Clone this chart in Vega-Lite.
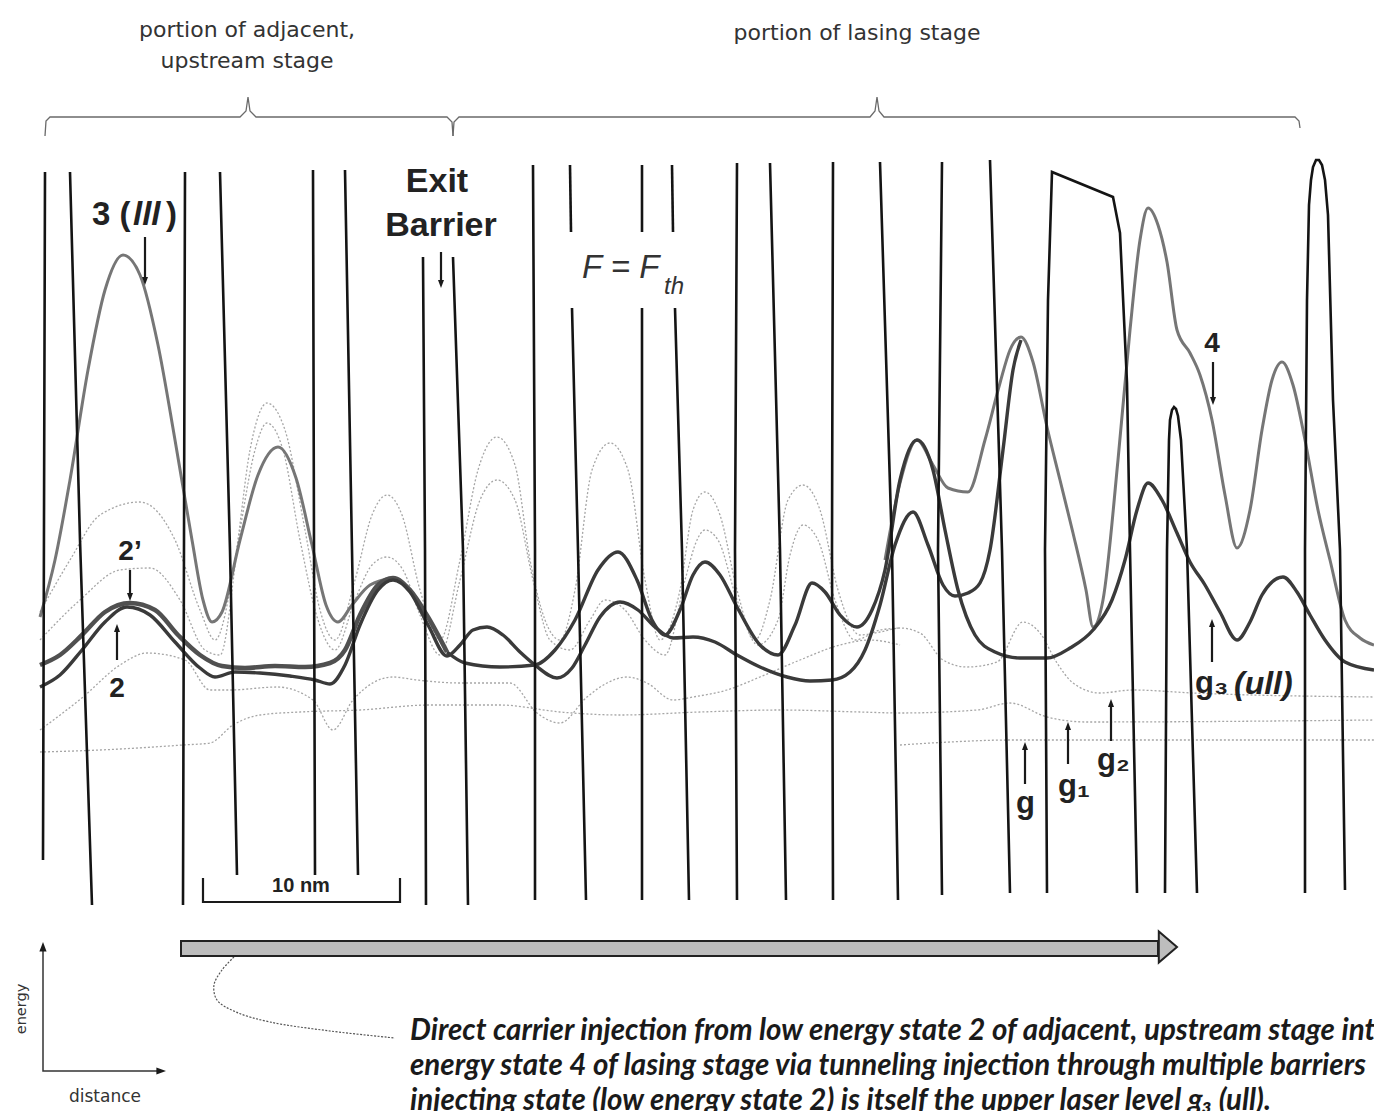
{
  "$schema": "https://vega.github.io/schema/vega-lite/v6.json",
  "width": 1374,
  "height": 1111,
  "autosize": {"type": "none"},
  "padding": 0,
  "background": "white",
  "config": {"view": {"stroke": null}, "font": "Liberation Sans"},
  "datasets": {
    "bars": [
      {"id":"b1","x":45,"y":172},{"id":"b1","x":44,"y":520},{"id":"b1","x":43,"y":860},
      {"id":"b2","x":70,"y":172},{"id":"b2","x":80,"y":540},{"id":"b2","x":92,"y":905},
      {"id":"b3","x":185,"y":172},{"id":"b3","x":184,"y":540},{"id":"b3","x":183,"y":905},
      {"id":"b4","x":220,"y":172},{"id":"b4","x":230,"y":550},{"id":"b4","x":237,"y":875},
      {"id":"b5","x":313,"y":170},{"id":"b5","x":314,"y":550},{"id":"b5","x":315,"y":875},
      {"id":"b6","x":345,"y":170},{"id":"b6","x":352,"y":550},{"id":"b6","x":358,"y":875},
      {"id":"b7","x":423,"y":257},{"id":"b7","x":425,"y":550},{"id":"b7","x":426,"y":905},
      {"id":"b8","x":453,"y":257},{"id":"b8","x":463,"y":550},{"id":"b8","x":468,"y":905},
      {"id":"b9","x":533,"y":165},{"id":"b9","x":535,"y":550},{"id":"b9","x":535,"y":900},
      {"id":"b10a","x":570,"y":165},{"id":"b10a","x":571,"y":232},
      {"id":"b10","x":572,"y":308},{"id":"b10","x":578,"y":550},{"id":"b10","x":586,"y":900},
      {"id":"b11a","x":642,"y":165},{"id":"b11a","x":642,"y":232},
      {"id":"b11","x":642,"y":308},{"id":"b11","x":642,"y":550},{"id":"b11","x":642,"y":900},
      {"id":"b12a","x":672,"y":165},{"id":"b12a","x":673,"y":232},
      {"id":"b12","x":675,"y":308},{"id":"b12","x":682,"y":550},{"id":"b12","x":689,"y":900},
      {"id":"b13","x":737,"y":163},{"id":"b13","x":735,"y":550},{"id":"b13","x":737,"y":900},
      {"id":"b14","x":770,"y":163},{"id":"b14","x":780,"y":550},{"id":"b14","x":786,"y":900},
      {"id":"b15","x":833,"y":162},{"id":"b15","x":832,"y":550},{"id":"b15","x":833,"y":900},
      {"id":"b16","x":880,"y":162},{"id":"b16","x":892,"y":550},{"id":"b16","x":898,"y":900},
      {"id":"b17","x":942,"y":162},{"id":"b17","x":938,"y":550},{"id":"b17","x":942,"y":895},
      {"id":"b18","x":990,"y":160},{"id":"b18","x":1002,"y":550},{"id":"b18","x":1010,"y":893},
      {"id":"b19","x":1047,"y":893},{"id":"b19","x":1045,"y":550},{"id":"b19","x":1048,"y":300},{"id":"b19","x":1052,"y":172},{"id":"b19","x":1113,"y":197},{"id":"b19","x":1120,"y":233},{"id":"b19","x":1127,"y":383},{"id":"b19","x":1130,"y":550},{"id":"b19","x":1137,"y":893},
      {"id":"b20","x":1165,"y":893},{"id":"b20","x":1167,"y":550},{"id":"b20","x":1169,"y":440},{"id":"b20","x":1170,"y":420},{"id":"b20","x":1172,"y":410},{"id":"b20","x":1174,"y":407},{"id":"b20","x":1176,"y":409},{"id":"b20","x":1178,"y":416},{"id":"b20","x":1181,"y":440},{"id":"b20","x":1187,"y":550},{"id":"b20","x":1197,"y":893},
      {"id":"b21","x":1305,"y":893},{"id":"b21","x":1305,"y":550},{"id":"b21","x":1307,"y":300},{"id":"b21","x":1309,"y":205},{"id":"b21","x":1311,"y":180},{"id":"b21","x":1313,"y":167},{"id":"b21","x":1316,"y":160},{"id":"b21","x":1319,"y":160},{"id":"b21","x":1322,"y":165},{"id":"b21","x":1325,"y":180},{"id":"b21","x":1328,"y":215},{"id":"b21","x":1333,"y":400},{"id":"b21","x":1340,"y":550},{"id":"b21","x":1345,"y":890}
    ],
    "faint": [
      {"id":"fa","x":40,"y":612},{"id":"fa","x":70,"y":560},{"id":"fa","x":100,"y":515},{"id":"fa","x":140,"y":502},{"id":"fa","x":175,"y":540},{"id":"fa","x":200,"y":610},{"id":"fa","x":215,"y":640},{"id":"fa","x":235,"y":560},{"id":"fa","x":250,"y":450},{"id":"fa","x":267,"y":403},{"id":"fa","x":285,"y":430},{"id":"fa","x":305,"y":530},{"id":"fa","x":320,"y":610},{"id":"fa","x":335,"y":640},{"id":"fa","x":355,"y":580},{"id":"fa","x":372,"y":515},{"id":"fa","x":387,"y":495},{"id":"fa","x":402,"y":515},{"id":"fa","x":420,"y":590},{"id":"fa","x":440,"y":640},{"id":"fa","x":460,"y":560},{"id":"fa","x":478,"y":470},{"id":"fa","x":497,"y":437},{"id":"fa","x":515,"y":465},{"id":"fa","x":530,"y":560},{"id":"fa","x":545,"y":620},{"id":"fa","x":560,"y":640},{"id":"fa","x":575,"y":590},{"id":"fa","x":592,"y":470},{"id":"fa","x":610,"y":443},{"id":"fa","x":628,"y":470},{"id":"fa","x":645,"y":580},{"id":"fa","x":660,"y":640},{"id":"fa","x":680,"y":590},{"id":"fa","x":693,"y":510},{"id":"fa","x":705,"y":492},{"id":"fa","x":720,"y":515},{"id":"fa","x":737,"y":590},{"id":"fa","x":755,"y":640},{"id":"fa","x":770,"y":600},{"id":"fa","x":788,"y":500},{"id":"fa","x":803,"y":485},{"id":"fa","x":820,"y":510},{"id":"fa","x":838,"y":590},{"id":"fa","x":860,"y":635},{"id":"fa","x":880,"y":632},{"id":"fa","x":900,"y":628},{"id":"fa","x":920,"y":633},{"id":"fa","x":943,"y":660},{"id":"fa","x":967,"y":667},{"id":"fa","x":997,"y":662},{"id":"fa","x":1023,"y":622},{"id":"fa","x":1040,"y":633},{"id":"fa","x":1057,"y":663},{"id":"fa","x":1073,"y":683},{"id":"fa","x":1100,"y":693},{"id":"fa","x":1133,"y":690},{"id":"fa","x":1193,"y":693},{"id":"fa","x":1374,"y":697},
      {"id":"fb","x":40,"y":640},{"id":"fb","x":80,"y":600},{"id":"fb","x":120,"y":570},{"id":"fb","x":150,"y":568},{"id":"fb","x":180,"y":600},{"id":"fb","x":205,"y":650},{"id":"fb","x":220,"y":655},{"id":"fb","x":240,"y":530},{"id":"fb","x":255,"y":450},{"id":"fb","x":267,"y":423},{"id":"fb","x":283,"y":450},{"id":"fb","x":300,"y":540},{"id":"fb","x":318,"y":620},{"id":"fb","x":335,"y":650},{"id":"fb","x":355,"y":600},{"id":"fb","x":372,"y":565},{"id":"fb","x":387,"y":557},{"id":"fb","x":403,"y":570},{"id":"fb","x":420,"y":615},{"id":"fb","x":440,"y":655},{"id":"fb","x":460,"y":580},{"id":"fb","x":480,"y":500},{"id":"fb","x":497,"y":480},{"id":"fb","x":515,"y":500},{"id":"fb","x":533,"y":580},{"id":"fb","x":550,"y":640},{"id":"fb","x":570,"y":650},{"id":"fb","x":590,"y":620},{"id":"fb","x":605,"y":600},{"id":"fb","x":625,"y":610},{"id":"fb","x":645,"y":640},{"id":"fb","x":665,"y":655},{"id":"fb","x":685,"y":580},{"id":"fb","x":697,"y":540},{"id":"fb","x":705,"y":530},{"id":"fb","x":718,"y":540},{"id":"fb","x":737,"y":600},{"id":"fb","x":758,"y":645},{"id":"fb","x":778,"y":620},{"id":"fb","x":790,"y":555},{"id":"fb","x":803,"y":525},{"id":"fb","x":818,"y":540},{"id":"fb","x":835,"y":600},{"id":"fb","x":855,"y":640},{"id":"fb","x":880,"y":630},{"id":"fb","x":900,"y":628},
      {"id":"fc","x":40,"y":730},{"id":"fc","x":83,"y":697},{"id":"fc","x":120,"y":665},{"id":"fc","x":147,"y":653},{"id":"fc","x":185,"y":660},{"id":"fc","x":210,"y":690},{"id":"fc","x":230,"y":690},{"id":"fc","x":277,"y":687},{"id":"fc","x":313,"y":700},{"id":"fc","x":333,"y":730},{"id":"fc","x":353,"y":700},{"id":"fc","x":393,"y":677},{"id":"fc","x":417,"y":680},{"id":"fc","x":460,"y":683},{"id":"fc","x":510,"y":683},{"id":"fc","x":537,"y":713},{"id":"fc","x":560,"y":723},{"id":"fc","x":587,"y":697},{"id":"fc","x":607,"y":683},{"id":"fc","x":627,"y":677},{"id":"fc","x":647,"y":683},{"id":"fc","x":673,"y":700},{"id":"fc","x":693,"y":697},{"id":"fc","x":727,"y":690},{"id":"fc","x":760,"y":677},{"id":"fc","x":800,"y":660},{"id":"fc","x":840,"y":645},{"id":"fc","x":870,"y":640},{"id":"fc","x":900,"y":645},
      {"id":"fd","x":40,"y":752},{"id":"fd","x":100,"y":750},{"id":"fd","x":183,"y":745},{"id":"fd","x":210,"y":743},{"id":"fd","x":233,"y":725},{"id":"fd","x":260,"y":715},{"id":"fd","x":300,"y":712},{"id":"fd","x":360,"y":710},{"id":"fd","x":430,"y":705},{"id":"fd","x":500,"y":705},{"id":"fd","x":560,"y":712},{"id":"fd","x":620,"y":715},{"id":"fd","x":700,"y":712},{"id":"fd","x":780,"y":710},{"id":"fd","x":860,"y":712},{"id":"fd","x":900,"y":713},{"id":"fd","x":977,"y":710},{"id":"fd","x":1010,"y":703},{"id":"fd","x":1047,"y":717},{"id":"fd","x":1087,"y":722},{"id":"fd","x":1374,"y":720},
      {"id":"fe","x":900,"y":745},{"id":"fe","x":950,"y":742},{"id":"fe","x":1010,"y":740},{"id":"fe","x":1374,"y":740}
    ],
    "gray": [
      {"id":"c3","x":40,"y":617},{"id":"c3","x":55,"y":560},{"id":"c3","x":70,"y":480},{"id":"c3","x":88,"y":370},{"id":"c3","x":105,"y":290},{"id":"c3","x":123,"y":255},{"id":"c3","x":140,"y":275},{"id":"c3","x":158,"y":345},{"id":"c3","x":175,"y":440},{"id":"c3","x":192,"y":540},{"id":"c3","x":203,"y":600},{"id":"c3","x":212,"y":622},{"id":"c3","x":222,"y":612},{"id":"c3","x":240,"y":540},{"id":"c3","x":258,"y":475},{"id":"c3","x":278,"y":447},{"id":"c3","x":296,"y":478},{"id":"c3","x":312,"y":545},{"id":"c3","x":326,"y":605},{"id":"c3","x":338,"y":622},{"id":"c3","x":352,"y":605},{"id":"c3","x":370,"y":585},{"id":"c3","x":393,"y":578},
      {"id":"g4","x":885,"y":560},{"id":"g4","x":900,"y":483},{"id":"g4","x":917,"y":440},{"id":"g4","x":933,"y":465},{"id":"g4","x":948,"y":488},{"id":"g4","x":968,"y":492},{"id":"g4","x":985,"y":440},{"id":"g4","x":1000,"y":383},{"id":"g4","x":1010,"y":350},{"id":"g4","x":1021,"y":337},{"id":"g4","x":1033,"y":362},{"id":"g4","x":1047,"y":427},{"id":"g4","x":1060,"y":480},{"id":"g4","x":1073,"y":533},{"id":"g4","x":1086,"y":590},{"id":"g4","x":1093,"y":627},{"id":"g4","x":1103,"y":600},{"id":"g4","x":1118,"y":460},{"id":"g4","x":1130,"y":330},{"id":"g4","x":1140,"y":240},{"id":"g4","x":1148,"y":208},{"id":"g4","x":1158,"y":225},{"id":"g4","x":1167,"y":262},{"id":"g4","x":1177,"y":330},{"id":"g4","x":1190,"y":353},{"id":"g4","x":1200,"y":375},{"id":"g4","x":1212,"y":420},{"id":"g4","x":1225,"y":495},{"id":"g4","x":1237,"y":548},{"id":"g4","x":1250,"y":510},{"id":"g4","x":1262,"y":430},{"id":"g4","x":1272,"y":380},{"id":"g4","x":1282,"y":362},{"id":"g4","x":1293,"y":385},{"id":"g4","x":1305,"y":440},{"id":"g4","x":1318,"y":510},{"id":"g4","x":1330,"y":560},{"id":"g4","x":1345,"y":620},{"id":"g4","x":1360,"y":638},{"id":"g4","x":1374,"y":645}
    ],
    "thick": [
      {"id":"s2p","x":40,"y":665},{"id":"s2p","x":60,"y":655},{"id":"s2p","x":82,"y":635},{"id":"s2p","x":105,"y":612},{"id":"s2p","x":130,"y":603},{"id":"s2p","x":155,"y":610},{"id":"s2p","x":178,"y":635},{"id":"s2p","x":200,"y":655},{"id":"s2p","x":222,"y":666},{"id":"s2p","x":245,"y":668},{"id":"s2p","x":275,"y":666},{"id":"s2p","x":305,"y":667},{"id":"s2p","x":330,"y":663},{"id":"s2p","x":345,"y":650},{"id":"s2p","x":360,"y":615},{"id":"s2p","x":378,"y":585},{"id":"s2p","x":393,"y":578},{"id":"s2p","x":410,"y":590},{"id":"s2p","x":428,"y":617},{"id":"s2p","x":447,"y":652}
    ],
    "dark": [
      {"id":"s2","x":40,"y":687},{"id":"s2","x":60,"y":675},{"id":"s2","x":82,"y":650},{"id":"s2","x":105,"y":622},{"id":"s2","x":127,"y":607},{"id":"s2","x":150,"y":615},{"id":"s2","x":175,"y":642},{"id":"s2","x":200,"y":668},{"id":"s2","x":215,"y":677},{"id":"s2","x":235,"y":672},{"id":"s2","x":260,"y":673},{"id":"s2","x":290,"y":676},{"id":"s2","x":315,"y":680},{"id":"s2","x":330,"y":684},{"id":"s2","x":345,"y":665},{"id":"s2","x":360,"y":625},{"id":"s2","x":378,"y":590},{"id":"s2","x":393,"y":580},{"id":"s2","x":410,"y":592},{"id":"s2","x":428,"y":625},{"id":"s2","x":447,"y":656},{"id":"s2","x":460,"y":645},{"id":"s2","x":473,"y":630},{"id":"s2","x":487,"y":627},{"id":"s2","x":503,"y":635},{"id":"s2","x":520,"y":652},{"id":"s2","x":535,"y":665},{"id":"s2","x":557,"y":678},{"id":"s2","x":572,"y":668},{"id":"s2","x":585,"y":645},{"id":"s2","x":600,"y":617},{"id":"s2","x":620,"y":602},{"id":"s2","x":638,"y":610},{"id":"s2","x":655,"y":627},{"id":"s2","x":673,"y":638},{"id":"s2","x":693,"y":637},{"id":"s2","x":715,"y":642},{"id":"s2","x":737,"y":655},{"id":"s2","x":760,"y":667},{"id":"s2","x":787,"y":677},{"id":"s2","x":810,"y":681},{"id":"s2","x":832,"y":680},{"id":"s2","x":850,"y":672},{"id":"s2","x":865,"y":650},{"id":"s2","x":880,"y":605},{"id":"s2","x":895,"y":545},{"id":"s2","x":913,"y":512},{"id":"s2","x":928,"y":545},{"id":"s2","x":943,"y":585},{"id":"s2","x":955,"y":596},{"id":"s2","x":968,"y":593},{"id":"s2","x":980,"y":583},{"id":"s2","x":990,"y":550},{"id":"s2","x":1003,"y":450},{"id":"s2","x":1013,"y":370},{"id":"s2","x":1021,"y":340},
      {"id":"m2","x":447,"y":652},{"id":"m2","x":465,"y":663},{"id":"m2","x":500,"y":667},{"id":"m2","x":535,"y":665},{"id":"m2","x":555,"y":650},{"id":"m2","x":575,"y":620},{"id":"m2","x":598,"y":570},{"id":"m2","x":618,"y":552},{"id":"m2","x":637,"y":580},{"id":"m2","x":652,"y":620},{"id":"m2","x":665,"y":635},{"id":"m2","x":680,"y":610},{"id":"m2","x":693,"y":575},{"id":"m2","x":705,"y":562},{"id":"m2","x":720,"y":575},{"id":"m2","x":737,"y":607},{"id":"m2","x":760,"y":645},{"id":"m2","x":778,"y":655},{"id":"m2","x":795,"y":625},{"id":"m2","x":812,"y":583},{"id":"m2","x":825,"y":592},{"id":"m2","x":840,"y":615},{"id":"m2","x":857,"y":627},{"id":"m2","x":872,"y":610},{"id":"m2","x":885,"y":570},{"id":"m2","x":900,"y":480},{"id":"m2","x":917,"y":440},{"id":"m2","x":933,"y":470},{"id":"m2","x":945,"y":530},{"id":"m2","x":958,"y":590},{"id":"m2","x":975,"y":635},{"id":"m2","x":995,"y":652},{"id":"m2","x":1020,"y":658},{"id":"m2","x":1047,"y":658},{"id":"m2","x":1070,"y":648},{"id":"m2","x":1093,"y":630},{"id":"m2","x":1112,"y":600},{"id":"m2","x":1125,"y":560},{"id":"m2","x":1137,"y":510},{"id":"m2","x":1148,"y":483},{"id":"m2","x":1162,"y":500},{"id":"m2","x":1177,"y":533},{"id":"m2","x":1190,"y":562},{"id":"m2","x":1205,"y":585},{"id":"m2","x":1220,"y":612},{"id":"m2","x":1237,"y":640},{"id":"m2","x":1250,"y":622},{"id":"m2","x":1262,"y":595},{"id":"m2","x":1283,"y":577},{"id":"m2","x":1297,"y":592},{"id":"m2","x":1310,"y":615},{"id":"m2","x":1325,"y":640},{"id":"m2","x":1345,"y":662},{"id":"m2","x":1374,"y":670}
    ],
    "braces": [
      {"id":"l","x":45,"y":136},{"id":"l","x":46,"y":121},{"id":"l","x":50,"y":117},{"id":"l","x":240,"y":117},{"id":"l","x":246,"y":111},{"id":"l","x":248,"y":97},{"id":"l","x":250,"y":111},{"id":"l","x":256,"y":117},{"id":"l","x":447,"y":117},{"id":"l","x":452,"y":122},{"id":"l","x":453,"y":136},
      {"id":"r","x":453,"y":136},{"id":"r","x":454,"y":122},{"id":"r","x":459,"y":117},{"id":"r","x":870,"y":117},{"id":"r","x":875,"y":111},{"id":"r","x":877,"y":97},{"id":"r","x":879,"y":111},{"id":"r","x":884,"y":117},{"id":"r","x":1295,"y":117},{"id":"r","x":1299,"y":121},{"id":"r","x":1300,"y":128}
    ],
    "ink": [
      {"id":"a1","x":145,"y":237},{"id":"a1","x":145,"y":280},
      {"id":"a2","x":441,"y":252},{"id":"a2","x":441,"y":283},
      {"id":"a3","x":130,"y":570},{"id":"a3","x":130,"y":596},
      {"id":"a4","x":117,"y":660},{"id":"a4","x":117,"y":630},
      {"id":"a5","x":1213,"y":362},{"id":"a5","x":1213,"y":400},
      {"id":"a6","x":1025,"y":784},{"id":"a6","x":1025,"y":748},
      {"id":"a7","x":1068,"y":764},{"id":"a7","x":1068,"y":728},
      {"id":"a8","x":1111,"y":741},{"id":"a8","x":1111,"y":705},
      {"id":"a9","x":1212,"y":662},{"id":"a9","x":1212,"y":625},
      {"id":"sb","x":203,"y":878},{"id":"sb","x":203,"y":902},{"id":"sb","x":400,"y":902},{"id":"sb","x":400,"y":878}
    ],
    "axisIcon": [
      {"id":"ax","x":43,"y":950},{"id":"ax","x":43,"y":1071},{"id":"ax","x":158,"y":1071}
    ],
    "leader": [
      {"id":"ld","x":234,"y":957},{"id":"ld","x":222,"y":970},{"id":"ld","x":214,"y":985},{"id":"ld","x":217,"y":1000},{"id":"ld","x":236,"y":1012},{"id":"ld","x":270,"y":1022},{"id":"ld","x":330,"y":1031},{"id":"ld","x":395,"y":1038}
    ],
    "heads": [
      {"x":145,"y":285,"dir":"down"},{"x":441,"y":288,"dir":"down"},{"x":130,"y":601,"dir":"down"},{"x":117,"y":624,"dir":"up"},{"x":1213,"y":405,"dir":"down"},
      {"x":1025,"y":742,"dir":"up"},{"x":1068,"y":722,"dir":"up"},{"x":1111,"y":699,"dir":"up"},{"x":1212,"y":619,"dir":"up"}
    ],
    "axisHeads": [
      {"x":43,"y":942,"dir":"up"},{"x":166,"y":1071,"dir":"right"}
    ]
  },
  "encoding": {
    "x": {"field": "x", "type": "quantitative", "scale": {"domain": [0, 1374], "nice": false, "zero": false}, "axis": null},
    "y": {"field": "y", "type": "quantitative", "scale": {"domain": [0, 1111], "nice": false, "zero": false, "reverse": true}, "axis": null}
  },
  "layer": [
    {"data": {"name": "faint"}, "mark": {"type": "line", "interpolate": "monotone", "stroke": "#a6a6a6", "strokeWidth": 1.3, "strokeDash": [2, 2]}, "encoding": {"detail": {"field": "id", "type": "nominal"}, "order": {"value": null}}},
    {"data": {"name": "gray"}, "mark": {"type": "line", "interpolate": "monotone", "stroke": "#767676", "strokeWidth": 3}, "encoding": {"detail": {"field": "id", "type": "nominal"}, "order": {"value": null}}},
    {"data": {"name": "thick"}, "mark": {"type": "line", "interpolate": "monotone", "stroke": "#505050", "strokeWidth": 4.5}, "encoding": {"detail": {"field": "id", "type": "nominal"}, "order": {"value": null}}},
    {"data": {"name": "dark"}, "mark": {"type": "line", "interpolate": "monotone", "stroke": "#3a3a3a", "strokeWidth": 3.4}, "encoding": {"detail": {"field": "id", "type": "nominal"}, "order": {"value": null}}},
    {"data": {"name": "bars"}, "mark": {"type": "line", "interpolate": "linear", "stroke": "#141414", "strokeWidth": 2.6}, "encoding": {"detail": {"field": "id", "type": "nominal"}, "order": {"value": null}}},
    {"data": {"name": "braces"}, "mark": {"type": "line", "interpolate": "linear", "stroke": "#6a6a6a", "strokeWidth": 1.3}, "encoding": {"detail": {"field": "id", "type": "nominal"}, "order": {"value": null}}},
    {"data": {"name": "ink"}, "mark": {"type": "line", "interpolate": "linear", "stroke": "#1a1a1a", "strokeWidth": 2.2}, "encoding": {"detail": {"field": "id", "type": "nominal"}, "order": {"value": null}}},
    {"data": {"name": "axisIcon"}, "mark": {"type": "line", "interpolate": "linear", "stroke": "#333", "strokeWidth": 1.5}, "encoding": {"detail": {"field": "id", "type": "nominal"}, "order": {"value": null}}},
    {"data": {"name": "leader"}, "mark": {"type": "line", "interpolate": "catmull-rom", "stroke": "#555", "strokeWidth": 1.2, "strokeDash": [2, 1.5]}, "encoding": {"detail": {"field": "id", "type": "nominal"}, "order": {"value": null}}},
    {"data": {"name": "heads"}, "mark": {"type": "point", "filled": true, "opacity": 1, "fill": "#1a1a1a", "size": 100}, "encoding": {"shape": {"field": "dir", "type": "nominal", "legend": null, "scale": {"domain": ["down", "up", "right"], "range": ["M0,0L-0.6,-1.6L0.6,-1.6Z", "M0,0L-0.6,1.6L0.6,1.6Z", "M0,0L-1.6,-0.6L-1.6,0.6Z"]}}}},
    {"data": {"name": "axisHeads"}, "mark": {"type": "point", "filled": true, "opacity": 1, "fill": "#1a1a1a", "size": 144}, "encoding": {"shape": {"field": "dir", "type": "nominal", "legend": null, "scale": {"domain": ["down", "up", "right"], "range": ["M0,0L-0.7,-1.9L0.7,-1.9Z", "M0,0L-0.7,1.9L0.7,1.9Z", "M0,0L-1.9,-0.7L-1.9,0.7Z"]}}}},
    {"data": {"values": [{"x": 181, "x2": 1158, "y": 941, "y2": 956}]}, "mark": {"type": "rect", "fill": "#bdbdbd", "stroke": "#222", "strokeWidth": 2}, "encoding": {"x2": {"field": "x2"}, "y2": {"field": "y2"}}},
    {"data": {"values": [{"x": 1177, "y": 947}]}, "mark": {"type": "point", "filled": true, "opacity": 1, "fill": "#bdbdbd", "stroke": "#222", "strokeWidth": 2, "size": 676, "shape": "M0,0L-1.4,-1.2L-1.4,1.2Z"}},
    {"data": {"values": [{"x": 92, "y": 215, "t": "3 ("}, {"x": 166, "y": 215, "t": ")"}]}, "mark": {"type": "text", "align": "left", "baseline": "middle", "font": "Liberation Sans", "fontWeight": "bold", "fontSize": 33, "fill": "#222"}, "encoding": {"text": {"field": "t"}}},
    {"data": {"values": [{"x": 133, "y": 215, "t": "lll"}]}, "mark": {"type": "text", "align": "left", "baseline": "middle", "font": "Liberation Sans", "fontWeight": "bold", "fontStyle": "italic", "fontSize": 33, "fill": "#222"}, "encoding": {"text": {"field": "t"}}},
    {"data": {"values": [{"x": 437, "y": 182, "t": "Exit"}, {"x": 441, "y": 226, "t": "Barrier"}]}, "mark": {"type": "text", "align": "center", "baseline": "middle", "font": "Liberation Sans", "fontWeight": "bold", "fontSize": 34, "fill": "#222"}, "encoding": {"text": {"field": "t"}}},
    {"data": {"values": [{"x": 130, "y": 552, "t": "2’"}, {"x": 117, "y": 689, "t": "2"}, {"x": 1212, "y": 344, "t": "4"}]}, "mark": {"type": "text", "align": "center", "baseline": "middle", "font": "Liberation Sans", "fontWeight": "bold", "fontSize": 28, "fill": "#222"}, "encoding": {"text": {"field": "t"}}},
    {"data": {"values": [{"x": 1016, "y": 804, "t": "g"}, {"x": 1058, "y": 787, "t": "g₁"}, {"x": 1097, "y": 761, "t": "g₂"}, {"x": 1195, "y": 684, "t": "g₃"}]}, "mark": {"type": "text", "align": "left", "baseline": "middle", "font": "Liberation Sans", "fontWeight": "bold", "fontSize": 31, "fill": "#222"}, "encoding": {"text": {"field": "t"}}},
    {"data": {"values": [{"x": 1234, "y": 684, "t": "(ull)"}]}, "mark": {"type": "text", "align": "left", "baseline": "middle", "font": "Liberation Sans", "fontWeight": "bold", "fontStyle": "italic", "fontSize": 32, "fill": "#222"}, "encoding": {"text": {"field": "t"}}},
    {"data": {"values": [{"x": 301, "y": 886, "t": "10 nm"}]}, "mark": {"type": "text", "align": "center", "baseline": "middle", "font": "Liberation Sans", "fontWeight": "bold", "fontSize": 20, "fill": "#222"}, "encoding": {"text": {"field": "t"}}},
    {"data": {"values": [{"x": 582, "y": 268, "t": "F = F"}]}, "mark": {"type": "text", "align": "left", "baseline": "middle", "font": "Liberation Sans", "fontStyle": "italic", "fontSize": 33, "fill": "#333"}, "encoding": {"text": {"field": "t"}}},
    {"data": {"values": [{"x": 664, "y": 287, "t": "th"}]}, "mark": {"type": "text", "align": "left", "baseline": "middle", "font": "Liberation Sans", "fontStyle": "italic", "fontSize": 24, "fill": "#333"}, "encoding": {"text": {"field": "t"}}},
    {"data": {"values": [{"x": 247, "y": 30, "t": "portion of adjacent,"}, {"x": 247, "y": 61, "t": "upstream stage"}, {"x": 857, "y": 33, "t": "portion of lasing stage"}]}, "mark": {"type": "text", "align": "center", "baseline": "middle", "font": "DejaVu Sans", "fontSize": 22, "fill": "#333"}, "encoding": {"text": {"field": "t"}}},
    {"data": {"values": [{"x": 105, "y": 1097, "t": "distance"}]}, "mark": {"type": "text", "align": "center", "baseline": "middle", "font": "DejaVu Sans", "fontSize": 17, "fill": "#333"}, "encoding": {"text": {"field": "t"}}},
    {"data": {"values": [{"x": 22, "y": 1009, "t": "energy"}]}, "mark": {"type": "text", "align": "center", "baseline": "middle", "angle": 270, "font": "DejaVu Sans", "fontSize": 14.5, "fill": "#333"}, "encoding": {"text": {"field": "t"}}},
    {"data": {"values": [
      {"x": 410, "y": 1031, "t": "Direct carrier injection from low energy state 2 of adjacent, upstream stage into"},
      {"x": 410, "y": 1066, "t": "energy state 4 of lasing stage via tunneling injection through multiple barriers"},
      {"x": 410, "y": 1101, "t": "injecting state (low energy state 2) is itself the upper laser level g₃ (ull)."}
    ]}, "mark": {"type": "text", "align": "left", "baseline": "middle", "font": "Lato", "fontStyle": "italic", "fontWeight": "bold", "fontSize": 29.5, "fill": "#1a1a1a"}, "encoding": {"text": {"field": "t"}}}
  ]
}
